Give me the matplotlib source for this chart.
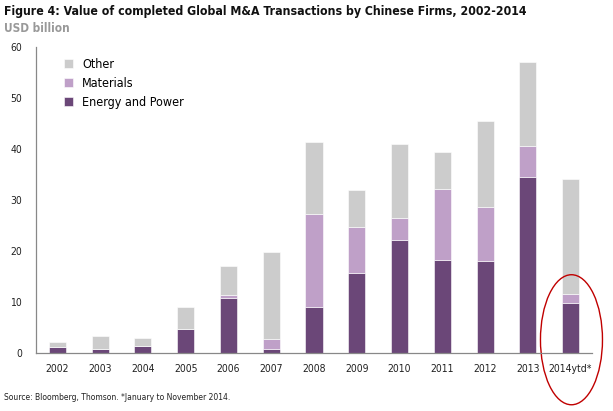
import numpy as np
import matplotlib.pyplot as plt
from matplotlib.patches import Ellipse

plt.rcParams['font.family'] = ['DejaVu Sans']
plt.rcParams['font.stretch'] = 'condensed'

years = ["2002", "2003", "2004", "2005", "2006", "2007", "2008",
         "2009", "2010", "2011", "2012", "2013", "2014ytd*"]
energy = [1.1, 0.85, 1.3, 4.8, 10.7, 0.8, 9.0, 15.6, 22.2, 18.3, 18.1, 34.6, 9.9]
materials = [0.0, 0.0, 0.0, 0.0, 0.7, 2.0, 18.3, 9.2, 4.3, 13.9, 10.5, 6.05, 1.7]
other = [1.1, 2.55, 1.7, 4.3, 5.6, 17.1, 14.1, 7.2, 14.5, 7.3, 16.8, 16.35, 22.6]

c_energy = "#6b4778"
c_mat = "#bfa0c8"
c_other = "#cccccc"

fig = plt.figure(figsize=(6.13, 4.11), dpi=100)
ax = fig.add_axes([36/613, 1-353/411, (592-36)/613, (353-47)/411])

x = np.arange(len(years))
w = 0.4
e = np.array(energy)
m = np.array(materials)
o = np.array(other)
ax.bar(x, e, w, color=c_energy, label="Energy and Power", edgecolor="white", linewidth=0.4)
ax.bar(x, m, w, bottom=e, color=c_mat, label="Materials", edgecolor="white", linewidth=0.4)
ax.bar(x, o, w, bottom=e+m, color=c_other, label="Other", edgecolor="white", linewidth=0.4)

ax.set_xlim(-0.5, 12.5)
ax.set_ylim(0, 60)
ax.set_yticks(range(0, 61, 10))
ax.set_xticks(x)
ax.set_xticklabels(years)
for s in ["top", "right"]:
    ax.spines[s].set_visible(False)
for s in ["left", "bottom"]:
    ax.spines[s].set_color("#888888")
    ax.spines[s].set_linewidth(0.9)
ax.tick_params(axis="both", length=0, labelsize=7.5, colors="#222222")
ax.tick_params(axis="y", pad=10)
ax.tick_params(axis="x", pad=8)

h, l = ax.get_legend_handles_labels()
ax.legend(h[::-1], l[::-1], loc="upper left", bbox_to_anchor=(0.03, 1.0),
          frameon=False, fontsize=9, handlelength=0.75, handleheight=0.75,
          handletextpad=0.7, labelspacing=0.45)

# red ring around the partial-year bar
ell = Ellipse((12.02, 2.6), 1.45, 25.5, fill=False, edgecolor="#c00000",
              linewidth=1.0, clip_on=False)
ax.add_patch(ell)

fig.text(4/613, 1-12/411, "Figure 4: Value of completed Global M&A Transactions by Chinese Firms, 2002-2014",
         fontsize=8.8, fontweight="bold", va="center", ha="left", color="#111111")
fig.text(4/613, 1-28/411, "USD billion", fontsize=8.5, fontweight="bold", va="center",
         ha="left", color="#999999")
fig.text(4/613, 1-397/411, "Source: Bloomberg, Thomson. *January to November 2014.",
         fontsize=6.1, va="center", ha="left", color="#222222")

fig.savefig("out.png", dpi=100)
